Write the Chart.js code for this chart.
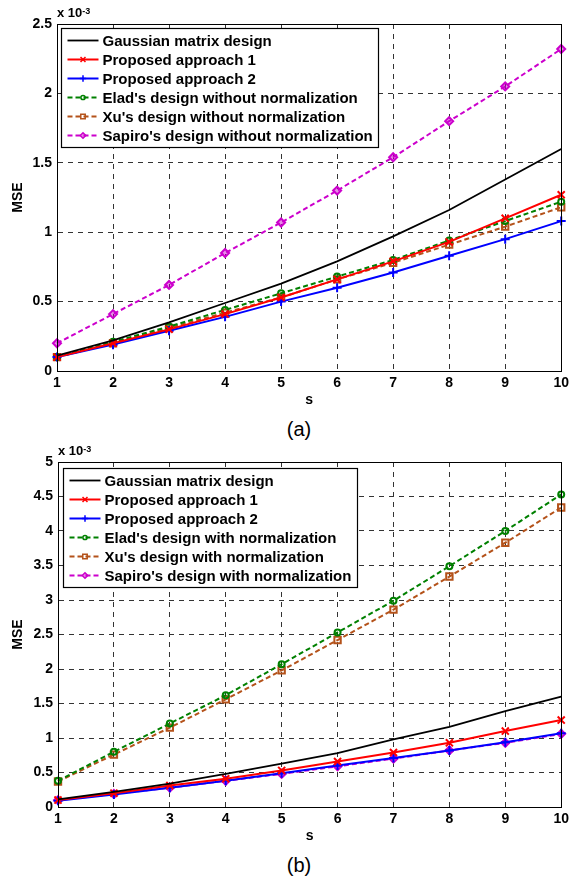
<!DOCTYPE html>
<html lang="en">
<head>
    <meta charset="UTF-8">
    <title>MSE versus s</title>
    <script src="https://cdn.jsdelivr.net/npm/chart.js"></script>
    <style>
        body {
            margin: 0;
            padding: 0;
            background: #fff;
            font-family: "Liberation Sans", Arial, sans-serif;
        }
        #page {
            position: relative;
            width: 573px;
            height: 877px;
        }
        .panel {
            position: absolute;
            left: 0;
        }
        .expo {
            position: absolute;
            font-weight: bold;
            font-size: 13px;
            line-height: 14px;
            color: #000;
        }
        .expo sup {
            font-size: 9px;
            position: relative;
            top: -2px;
            vertical-align: top;
        }
        .caption {
            position: absolute;
            width: 60px;
            margin-left: -30px;
            text-align: center;
            font-size: 20px;
            line-height: 24px;
            color: #000;
        }
    </style>
</head>
<body>
<div id="page">
    <div class="panel" style="top:0"><canvas id="chartA" width="573" height="415"></canvas></div>
    <div class="expo" style="left:57px; top:6px">x 10<sup>-3</sup></div>
    <div class="caption" style="left:299px; top:417px">(a)</div>

    <div class="panel" style="top:440px"><canvas id="chartB" width="573" height="411"></canvas></div>
    <div class="expo" style="left:58px; top:444px">x 10<sup>-3</sup></div>
    <div class="caption" style="left:299px; top:853px">(b)</div>
</div>
<script>
    // s values on the x axis
    const sValues = ['1', '2', '3', '4', '5', '6', '7', '8', '9', '10'];

    // MSE in units of 10^-3, panel (a): designs without normalization
    const gaussA   = [0.11, 0.22, 0.35, 0.49, 0.63, 0.79, 0.97, 1.16, 1.38, 1.60];
    const prop1A   = [0.10, 0.20, 0.30, 0.41, 0.53, 0.66, 0.79, 0.93, 1.10, 1.27];
    const prop2A   = [0.10, 0.19, 0.29, 0.39, 0.50, 0.60, 0.71, 0.83, 0.95, 1.08];
    const eladA    = [0.10, 0.21, 0.32, 0.44, 0.56, 0.68, 0.80, 0.94, 1.08, 1.22];
    const xuA      = [0.10, 0.20, 0.31, 0.42, 0.53, 0.66, 0.78, 0.91, 1.04, 1.18];
    const sapiroA  = [0.20, 0.41, 0.62, 0.85, 1.07, 1.30, 1.54, 1.80, 2.05, 2.32];

    // panel (b): designs with normalization
    const gaussB   = [0.11, 0.22, 0.34, 0.48, 0.63, 0.78, 0.98, 1.16, 1.39, 1.60];
    const prop1B   = [0.10, 0.20, 0.31, 0.41, 0.53, 0.66, 0.79, 0.93, 1.10, 1.26];
    const prop2B   = [0.09, 0.18, 0.28, 0.38, 0.49, 0.60, 0.71, 0.82, 0.94, 1.07];
    const eladB    = [0.38, 0.80, 1.21, 1.62, 2.07, 2.53, 2.99, 3.49, 4.00, 4.53];
    const xuB      = [0.37, 0.76, 1.15, 1.56, 1.98, 2.42, 2.86, 3.34, 3.83, 4.34];
    const sapiroB  = [0.10, 0.19, 0.28, 0.38, 0.48, 0.59, 0.70, 0.82, 0.93, 1.06];

    const yTicksA = { max: 2.5, step: 0.5 };
    const yTicksB = { max: 5, step: 0.5 };

    const FONT = '"Liberation Sans", Arial, sans-serif';
    Chart.defaults.font.family = FONT;
    Chart.defaults.color = '#000';

    // one line per design, MATLAB-like markers
    function makeSets(g, p1, p2, el, xu, sa, suffix) {
        return [
            { label: 'Gaussian matrix design', data: g, borderColor: '#000', borderWidth: 1.8,
              pointRadius: 0, pointStyle: false },
            { label: 'Proposed approach 1', data: p1, borderColor: '#ff0000', borderWidth: 2,
              pointStyle: 'crossRot', pointRadius: 5, pointBorderWidth: 2,
              pointBorderColor: '#ff0000', pointBackgroundColor: 'rgba(0,0,0,0)' },
            { label: 'Proposed approach 2', data: p2, borderColor: '#0000ff', borderWidth: 2,
              pointStyle: 'cross', pointRadius: 4.5, pointBorderWidth: 2,
              pointBorderColor: '#0000ff', pointBackgroundColor: 'rgba(0,0,0,0)' },
            { label: "Elad's design " + suffix, data: el, borderColor: '#008000', borderWidth: 2,
              borderDash: [5, 3], pointStyle: 'circle', pointRadius: 3, pointBorderWidth: 2,
              pointBorderColor: '#008000', pointBackgroundColor: 'rgba(0,0,0,0)' },
            { label: "Xu's design " + suffix, data: xu, borderColor: '#b4521a', borderWidth: 2,
              borderDash: [5, 3], pointStyle: 'rect', pointRadius: 4.5, pointBorderWidth: 2,
              pointBorderColor: '#b4521a', pointBackgroundColor: 'rgba(0,0,0,0)' },
            { label: "Sapiro's design " + suffix, data: sa, borderColor: '#cc00cc', borderWidth: 2,
              borderDash: [5, 3], pointStyle: 'rectRot', pointRadius: 4, pointBorderWidth: 2,
              pointBorderColor: '#cc00cc', pointBackgroundColor: 'rgba(204,0,204,0.45)' }
        ].map(d => Object.assign({ tension: 0, fill: false, clip: false }, d));
    }

    // axes box + boxed legend drawn inside the plot (like MATLAB)
    const matlabBox = {
        id: 'matlabBox',
        afterDraw(chart, args, opts) {
            const ctx = chart.ctx;
            const a = chart.chartArea;
            const L = Math.round(a.left) + 0.5, T = Math.round(a.top) + 0.5;
            const R = Math.round(a.right) + 0.5, B = Math.round(a.bottom) + 0.5;
            ctx.save();
            ctx.setLineDash([]);
            ctx.strokeStyle = '#000';
            ctx.lineWidth = 1;
            ctx.strokeRect(L, T, R - L, B - T);

            // legend
            const sets = chart.data.datasets;
            const legendFont = 'bold 15px ' + FONT;
            ctx.font = legendFont;
            let maxW = 0;
            sets.forEach(d => { maxW = Math.max(maxW, ctx.measureText(d.label).width); });
            const bx = Math.round(a.left + opts.dx) + 0.5;
            const by = Math.round(a.top + opts.dy) + 0.5;
            const bw = Math.round(41 + maxW + 6);
            const bh = sets.length * 19 + 5;
            ctx.fillStyle = '#fff';
            ctx.fillRect(bx, by, bw, bh);
            ctx.strokeStyle = '#000';
            ctx.lineWidth = 1.2;
            ctx.strokeRect(bx, by, bw, bh);

            sets.forEach((d, i) => {
                const y = by + 12 + i * 19;
                ctx.save();
                ctx.strokeStyle = d.borderColor;
                ctx.lineWidth = d.borderWidth;
                ctx.setLineDash(d.borderDash || []);
                ctx.beginPath();
                ctx.moveTo(bx + 6, y);
                ctx.lineTo(bx + 37, y);
                ctx.stroke();
                ctx.setLineDash([]);
                if (d.pointStyle && d.pointRadius > 0) {
                    ctx.strokeStyle = d.pointBorderColor;
                    ctx.fillStyle = d.pointBackgroundColor;
                    ctx.lineWidth = 1.5;
                    const opt = { pointStyle: d.pointStyle, radius: d.pointRadius * 0.7, rotation: 0, borderWidth: 1.5 };
                    if (Chart.helpers && Chart.helpers.drawPoint) {
                        Chart.helpers.drawPoint(ctx, opt, bx + 21.5, y);
                    } else {
                        ctx.beginPath();
                        ctx.arc(bx + 21.5, y, opt.radius, 0, Math.PI * 2);
                        ctx.stroke();
                    }
                }
                ctx.restore();
                ctx.fillStyle = '#000';
                ctx.textBaseline = 'middle';
                ctx.textAlign = 'left';
                ctx.font = legendFont;
                ctx.fillText(d.label, bx + 41, y + 1);
            });
            ctx.restore();
        }
    };

    function makeChart(id, sets, yt, yAxisWidth, legendPos) {
        const gridDash = [5, 5];
        return new Chart(document.getElementById(id), {
            type: 'line',
            data: { labels: sValues, datasets: sets },
            plugins: [matlabBox],
            options: {
                responsive: false,
                animation: false,
                events: [],
                layout: { padding: { top: legendPos.padTop, right: 10, left: 0, bottom: 0 } },
                plugins: {
                    legend: { display: false },
                    tooltip: { enabled: false },
                    matlabBox: legendPos
                },
                scales: {
                    x: {
                        type: 'category',
                        offset: false,
                        grid: { color: '#333', lineWidth: 1, drawTicks: false },
                        border: { color: '#000', width: 1, dash: gridDash },
                        ticks: { padding: 4, maxRotation: 0, autoSkip: false,
                                 font: { size: 14, weight: 'bold' }, color: '#000' },
                        title: { display: true, text: 's', color: '#000',
                                 font: { size: 14, weight: 'bold' }, padding: { top: 0, bottom: 6 } },
                        afterFit(scale) { scale.height = 44; }
                    },
                    y: {
                        min: 0,
                        max: yt.max,
                        grid: { color: '#333', lineWidth: 1, drawTicks: false },
                        border: { color: '#000', width: 1, dash: gridDash },
                        ticks: { stepSize: yt.step, padding: 5,
                                 callback: v => String(Number(Number(v).toFixed(1))),
                                 font: { size: 14, weight: 'bold' }, color: '#000' },
                        title: { display: true, text: 'MSE', color: '#000',
                                 font: { size: 14, weight: 'bold' }, padding: { top: 10, bottom: 0 } },
                        afterFit(scale) { scale.width = yAxisWidth; }
                    }
                }
            }
        });
    }

    makeChart('chartA',
        makeSets(gaussA, prop1A, prop2A, eladA, xuA, sapiroA, 'without normalization'),
        yTicksA, 57, { dx: 4, dy: 4, padTop: 24 });

    makeChart('chartB',
        makeSets(gaussB, prop1B, prop2B, eladB, xuB, sapiroB, 'with normalization'),
        yTicksB, 58, { dx: 5, dy: 6, padTop: 22 });
</script>
</body>
</html>
